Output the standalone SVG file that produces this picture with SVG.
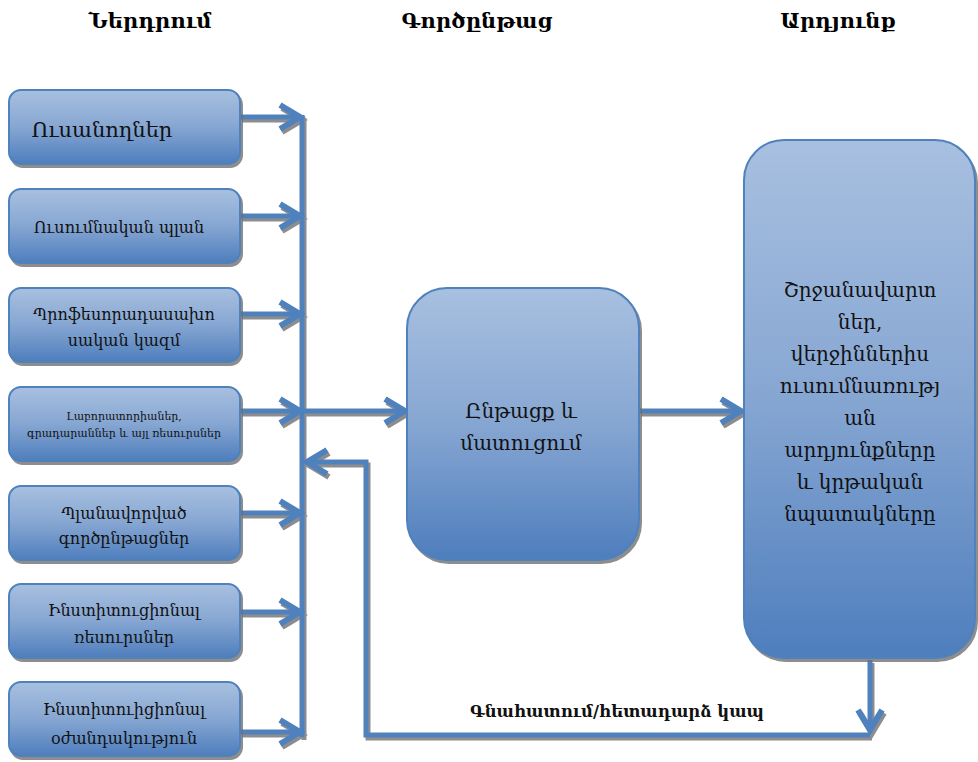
<svg xmlns="http://www.w3.org/2000/svg" width="978" height="762" viewBox="0 0 978 762">
<defs>
<linearGradient id="g" x1="0" y1="0" x2="0" y2="1">
<stop offset="0" stop-color="#A8C0E0"/>
<stop offset="0.5" stop-color="#86A6D2"/>
<stop offset="1" stop-color="#4E7EBD"/>
</linearGradient>
<filter id="sh" x="-10%" y="-10%" width="130%" height="130%">
<feDropShadow dx="2" dy="3" stdDeviation="0.6" flood-color="#6f6f6f" flood-opacity="0.8"/>
</filter>
<marker id="ah" markerUnits="userSpaceOnUse" markerWidth="30" markerHeight="32" refX="24" refY="14" orient="auto" overflow="visible">
<polyline points="4,2 24,14 4,26" fill="none" stroke="#4F81BD" stroke-width="6" stroke-linejoin="miter" stroke-linecap="butt"/>
</marker>
</defs>
<style>
.box{fill:url(#g);stroke:#4F81BD;stroke-width:2;filter:url(#sh)}
.t{font-family:"DejaVu Serif","DejaVu Sans",serif;fill:#111;text-anchor:middle}
.h{font-family:"DejaVu Serif","DejaVu Sans",serif;font-weight:bold;font-size:21px;fill:#000;text-anchor:middle}
.c{fill:none;stroke:#4F81BD;stroke-width:5}
</style>
<rect width="978" height="762" fill="#fff"/>
<g id="headers">
<text class="h" x="150" y="28">Ներդրում</text>
<text class="h" x="477" y="28">Գործընթաց</text>
<text class="h" x="838" y="28">Արդյունք</text>
</g>
<g id="connectors" filter="url(#sh)">
<line class="c" x1="302" y1="115" x2="302" y2="737"/>
<line class="c" x1="240" y1="117" x2="300" y2="117" marker-end="url(#ah)"/>
<line class="c" x1="240" y1="216" x2="300" y2="216" marker-end="url(#ah)"/>
<line class="c" x1="240" y1="314" x2="300" y2="314" marker-end="url(#ah)"/>
<line class="c" x1="240" y1="411" x2="300" y2="411" marker-end="url(#ah)"/>
<line class="c" x1="240" y1="513" x2="300" y2="513" marker-end="url(#ah)"/>
<line class="c" x1="240" y1="612" x2="300" y2="612" marker-end="url(#ah)"/>
<line class="c" x1="240" y1="732" x2="300" y2="732" marker-end="url(#ah)"/>
<line class="c" x1="302" y1="411" x2="405" y2="411" marker-end="url(#ah)"/>
<line class="c" x1="639" y1="411" x2="741" y2="411" marker-end="url(#ah)"/>
<line class="c" x1="870" y1="660" x2="870" y2="730" marker-end="url(#ah)"/>
<polyline class="c" points="870,735 366,735 366,462 307,462" marker-end="url(#ah)"/>
</g>
<g id="n1"><rect class="box" x="9" y="90" width="231" height="74" rx="12"/><text class="t" x="102" y="137" font-size="21">Ուսանողներ</text></g>
<g id="n2"><rect class="box" x="9" y="189" width="231" height="74" rx="12"/><text class="t" x="119" y="233" font-size="16">Ուսումնական պլան</text></g>
<g id="n3"><rect class="box" x="9" y="288" width="231" height="74" rx="12"/><text class="t" x="124" y="320" font-size="16">Պրոֆեսորադասախո</text><text class="t" x="124" y="346" font-size="16">սական կազմ</text></g>
<g id="n4"><rect class="box" x="9" y="387" width="231" height="74" rx="12"/><text class="t" x="124" y="420" font-size="11">Լաբորատորիաներ,</text><text class="t" x="124" y="437" font-size="11">գրադարաններ և այլ ռեսուրսներ</text></g>
<g id="n5"><rect class="box" x="9" y="486" width="231" height="74" rx="12"/><text class="t" x="124" y="519" font-size="16">Պլանավորված</text><text class="t" x="124" y="544" font-size="16">գործընթացներ</text></g>
<g id="n6"><rect class="box" x="9" y="584" width="231" height="74" rx="12"/><text class="t" x="124" y="616" font-size="16">Ինստիտուցիոնալ</text><text class="t" x="124" y="643" font-size="16">ռեսուրսներ</text></g>
<g id="n7"><rect class="box" x="9" y="682" width="231" height="74" rx="12"/><text class="t" x="124" y="715" font-size="16">Ինստիտուիցիոնալ</text><text class="t" x="124" y="744" font-size="16">օժանդակություն</text></g>
<g id="process"><rect class="box" x="407" y="288" width="232" height="272" rx="40"/><text class="t" x="521" y="418" font-size="20">Ընթացք և</text><text class="t" x="521" y="450" font-size="20">մատուցում</text></g>
<g id="output"><rect class="box" x="744" y="140" width="231" height="518" rx="40"/>
<text class="t" x="860" y="297" font-size="20">Շրջանավարտ</text>
<text class="t" x="860" y="329" font-size="20">ներ,</text>
<text class="t" x="860" y="361" font-size="20">վերջիններիս</text>
<text class="t" x="860" y="393" font-size="20">ուսումնառությ</text>
<text class="t" x="860" y="425" font-size="20">ան</text>
<text class="t" x="860" y="457" font-size="20">արդյունքները</text>
<text class="t" x="860" y="489" font-size="20">և կրթական</text>
<text class="t" x="860" y="521" font-size="20">նպատակները</text>
</g>
<g id="feedback-label"><text class="t" x="617" y="717" font-size="16.5" font-weight="bold">Գնահատում/հետադարձ կապ</text></g>
</svg>
